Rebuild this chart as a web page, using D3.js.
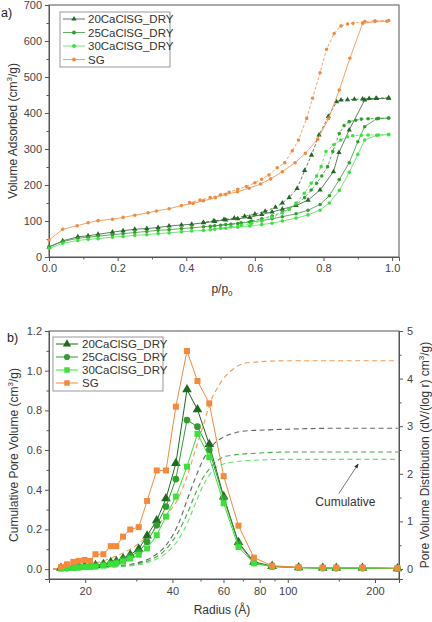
<!DOCTYPE html>
<head>
    <script src="https://d3js.org/d3.v7.min.js"></script>
    <style>
        body {margin: 0; background: #fff;}
        svg {font-family: "Liberation Sans", Arial, sans-serif;}
        .tick text {fill: #444; font-size: 11px;}
        .domain, .tick line {stroke: #555;}
        .title {fill: #333; font-size: 12px;}
    </style>
</head>
<body>
</body>
<script>
  const seriesNames = ["20CaClSG_DRY", "25CaClSG_DRY", "30CaClSG_DRY", "SG"],
        colors = ["#1e6a1e", "#2f9e2f", "#3be03b", "#f5893c"],
        lineColors = ["#3b5a3b", "#3a9a3a", "#55dd55", "#f5893c"],
        cumColors = ["#5f665f", "#45a645", "#66e066", "#f59a55"],
        shapes = [d3.symbolTriangle, d3.symbolCircle, d3.symbolSquare, d3.symbolSquare];

  // a) isotherms, p/p0 and volume adsorbed (cm3/g)
  const adsP = [
    [0.0, 0.04, 0.084, 0.114, 0.143, 0.185, 0.216, 0.25, 0.285, 0.318, 0.35, 0.386, 0.416, 0.45, 0.483, 0.515, 0.55, 0.585, 0.62, 0.65, 0.68, 0.72, 0.755, 0.79, 0.829, 0.845, 0.875, 0.92, 0.955, 0.99],
    [0.0, 0.04, 0.084, 0.114, 0.143, 0.185, 0.216, 0.25, 0.285, 0.318, 0.35, 0.386, 0.416, 0.45, 0.483, 0.515, 0.55, 0.585, 0.62, 0.65, 0.68, 0.72, 0.755, 0.79, 0.817, 0.846, 0.875, 0.90, 0.92, 0.955, 0.99],
    [0.0, 0.04, 0.084, 0.114, 0.143, 0.185, 0.216, 0.25, 0.285, 0.318, 0.35, 0.386, 0.416, 0.45, 0.483, 0.515, 0.55, 0.585, 0.62, 0.65, 0.68, 0.72, 0.755, 0.79, 0.817, 0.846, 0.875, 0.90, 0.92, 0.955, 0.99],
    [0.0, 0.04, 0.082, 0.114, 0.143, 0.185, 0.216, 0.25, 0.289, 0.313, 0.35, 0.386, 0.42, 0.45, 0.485, 0.515, 0.549, 0.583, 0.617, 0.646, 0.68, 0.717, 0.747, 0.783, 0.815, 0.846, 0.877, 0.914, 0.95, 0.985]
  ];
  const adsV = [
    [27, 45, 56, 59, 63, 69, 73, 77, 79, 82, 86, 89, 91, 95, 99, 103, 106, 110, 118, 125, 133, 143, 158, 186, 237, 290, 353, 436, 440, 441],
    [29, 43, 52, 55, 58, 62, 65, 68, 71, 74, 76, 79, 81, 84, 87, 90, 93, 97, 101, 106, 112, 120, 130, 146, 170, 215, 262, 320, 362, 384, 386],
    [24, 38, 46, 49, 51, 55, 57, 60, 62, 65, 67, 70, 72, 74, 77, 80, 83, 86, 90, 94, 100, 108, 117, 130, 150, 185, 235, 285, 325, 338, 340],
    [47, 77, 87, 95, 101, 105, 110, 116, 123, 128, 134, 143, 149, 156, 165, 174, 181, 191, 203, 217, 237, 262, 288, 327, 385, 464, 552, 649, 654, 655]
  ];
  const desP = [
    [0.99, 0.953, 0.933, 0.914, 0.89, 0.87, 0.851, 0.838, 0.814, 0.787, 0.765, 0.745, 0.723, 0.70, 0.68, 0.66, 0.63, 0.60, 0.57, 0.54, 0.51, 0.48, 0.45],
    [0.99, 0.96, 0.93, 0.91, 0.894, 0.875, 0.86, 0.846, 0.827, 0.812, 0.795, 0.78, 0.764, 0.745, 0.72, 0.70, 0.68, 0.65, 0.62, 0.59, 0.56, 0.53, 0.50, 0.47],
    [0.99, 0.96, 0.93, 0.91, 0.885, 0.87, 0.85, 0.83, 0.807, 0.793, 0.78, 0.764, 0.744, 0.72, 0.70, 0.68, 0.65, 0.62, 0.59, 0.56, 0.53, 0.50, 0.47],
    [0.99, 0.95, 0.92, 0.886, 0.87, 0.851, 0.831, 0.809, 0.79, 0.768, 0.751, 0.727, 0.709, 0.687, 0.665, 0.641, 0.62, 0.60, 0.575, 0.55, 0.525, 0.50, 0.47, 0.44, 0.41]
  ];
  const desV = [
    [442, 441, 440, 439, 438, 437, 436, 431, 390, 339, 283, 240, 190, 165, 150, 138, 127, 119, 113, 108, 104, 100, 96],
    [386, 385, 384, 383, 380, 376, 365, 343, 293, 251, 225, 205, 186, 165, 145, 133, 124, 114, 106, 100, 95, 91, 88, 85],
    [340, 339, 339, 338, 337, 334, 325, 312, 293, 251, 225, 205, 177, 150, 133, 122, 110, 100, 93, 88, 84, 80, 76],
    [657, 656, 654, 649, 647, 642, 621, 577, 512, 441, 385, 325, 295, 262, 248, 228, 216, 206, 196, 188, 180, 173, 165, 158, 151]
  ];

  // b) pore size distribution, radius (A)
  const radius = [16.5, 17.3, 18.2, 19.0, 19.9, 20.8, 21.7, 23.1, 24.5, 25.6, 27.0, 28.6, 30.6, 32.7, 35.3, 38.0, 41.1, 44.9, 48.8, 53.6, 60.1, 67.6, 76.4, 88.3, 109, 132, 147, 181, 239];
  const poreDist = [
    [0.02, 0.03, 0.04, 0.05, 0.06, 0.06, 0.08, 0.10, 0.14, 0.16, 0.22, 0.30, 0.42, 0.70, 1.02, 1.48, 2.22, 3.77, 3.35, 2.62, 1.52, 0.56, 0.15, 0.06, 0.03, 0.02, 0.02, 0.02, 0.01],
    [0.02, 0.02, 0.03, 0.04, 0.05, 0.05, 0.07, 0.09, 0.12, 0.14, 0.20, 0.27, 0.36, 0.57, 0.92, 1.31, 1.89, 3.13, 2.99, 2.50, 1.49, 0.53, 0.13, 0.05, 0.03, 0.02, 0.02, 0.02, 0.01],
    [0.01, 0.02, 0.02, 0.03, 0.04, 0.04, 0.05, 0.07, 0.10, 0.12, 0.16, 0.22, 0.30, 0.43, 0.71, 1.10, 1.52, 2.15, 2.84, 2.35, 1.38, 0.46, 0.12, 0.05, 0.03, 0.02, 0.02, 0.02, 0.01],
    [0.04, 0.10, 0.15, 0.17, 0.19, 0.17, 0.31, 0.31, 0.48, 0.48, 0.68, 0.83, 0.88, 1.43, 2.07, 2.07, 3.41, 4.58, 3.95, 3.48, 1.95, 0.91, 0.24, 0.07, 0.035, 0.03, 0.03, 0.03, 0.02]
  ];
  const cumRadius = [15.5, 20, 25, 30, 34, 38, 42, 45, 48, 51, 54, 57, 60, 65, 70, 80, 100, 150, 240];
  const cumVolume = [
    [0.0, 0.005, 0.015, 0.03, 0.06, 0.12, 0.23, 0.35, 0.46, 0.55, 0.61, 0.645, 0.665, 0.685, 0.695, 0.70, 0.705, 0.71, 0.71],
    [0.0, 0.005, 0.012, 0.025, 0.05, 0.10, 0.19, 0.28, 0.38, 0.46, 0.51, 0.545, 0.565, 0.575, 0.58, 0.585, 0.59, 0.59, 0.59],
    [0.0, 0.004, 0.01, 0.02, 0.04, 0.08, 0.15, 0.23, 0.33, 0.42, 0.48, 0.515, 0.53, 0.54, 0.545, 0.55, 0.553, 0.553, 0.553],
    [0.0, 0.02, 0.06, 0.12, 0.19, 0.27, 0.36, 0.47, 0.60, 0.72, 0.84, 0.91, 0.96, 1.01, 1.035, 1.045, 1.05, 1.05, 1.05]
  ];
  const radiusTicks = [20, 40, 60, 80, 100, 200],
        radiusMinor = [30, 50, 70, 90, 150];

  const width = 432, height = 622;
  const svg = d3.select("body").append("svg")
          .attr("width", width)
          .attr("height", height);

  const frame = (g, x0, x1, y0, y1) => {
    g.append("rect").attr("x", x0).attr("y", y0)
      .attr("width", x1 - x0).attr("height", y1 - y0)
      .attr("fill", "none").attr("stroke", "#555");
  };

  const minorTicks = (g, axis, values, tx) => {
    g.append("g").attr("transform", tx).call(axis.tickValues(values).tickSize(2.5).tickFormat(""))
      .call(s => s.select(".domain").remove());
  };

  // ---------- panel a ----------
  const ax = d3.scaleLinear().domain([0, 1.02]).range([49, 399]),
        ay = d3.scaleLinear().domain([0, 700]).range([257, 5]);
  const pa = svg.append("g");

  minorTicks(pa, d3.axisBottom(ax), d3.range(0.1, 1.01, 0.2), "translate(0,257)");
  minorTicks(pa, d3.axisLeft(ay), d3.range(50, 700, 100), "translate(49,0)");
  pa.append("g").attr("transform", "translate(0,257)")
    .call(d3.axisBottom(ax).tickValues(d3.range(0, 1.01, 0.2)).tickSize(4).tickPadding(3).tickFormat(d3.format(".1f")));
  pa.append("g").attr("transform", "translate(49,0)")
    .call(d3.axisLeft(ay).tickValues(d3.range(0, 701, 100)).tickSize(4).tickPadding(3));
  frame(pa, 49, 399, 5, 257);

  const isoLine = d3.line().x(d => ax(d[0])).y(d => ay(d[1]));
  seriesNames.forEach((name, i) => {
    const ads = adsP[i].map((p, j) => [p, adsV[i][j]]),
          des = desP[i].map((p, j) => [p, desV[i][j]]);
    pa.append("path").attr("d", isoLine(ads)).attr("fill", "none")
      .attr("stroke", lineColors[i]).attr("stroke-width", 0.8);
    pa.append("path").attr("d", isoLine(des)).attr("fill", "none")
      .attr("stroke", lineColors[i]).attr("stroke-width", 0.8).attr("stroke-dasharray", "3,2");
    const sym = d3.symbol().type(i === 0 ? d3.symbolTriangle : d3.symbolCircle).size(i === 0 ? 12 : 10);
    pa.append("g").selectAll("path").data(ads.concat(des)).enter().append("path")
      .attr("d", sym).attr("transform", d => `translate(${ax(d[0])},${ay(d[1])})`)
      .attr("fill", colors[i]);
  });

  const legA = pa.append("g").attr("transform", "translate(60,12)");
  legA.append("rect").attr("width", 110).attr("height", 55).attr("fill", "#fff").attr("stroke", "#999");
  seriesNames.forEach((name, i) => {
    const y = 7 + i * 13.5;
    legA.append("line").attr("x1", 3).attr("x2", 25).attr("y1", y).attr("y2", y)
      .attr("stroke", lineColors[i]).attr("stroke-width", 0.8);
    legA.append("path").attr("d", d3.symbol().type(i === 0 ? d3.symbolTriangle : d3.symbolCircle).size(12))
      .attr("transform", `translate(14,${y})`).attr("fill", colors[i]);
    legA.append("text").attr("x", 28).attr("y", y + 4).attr("font-size", 11.5).attr("fill", "#333").text(name);
  });

  pa.append("text").attr("class", "title").attr("transform", "translate(17,131) rotate(-90)")
    .attr("text-anchor", "middle").attr("font-size", 12.5)
    .html("Volume Adsorbed (cm<tspan dy='-5' font-size='8'>3</tspan><tspan dy='5'>/g)</tspan>");
  pa.append("text").attr("class", "title").attr("x", 222).attr("y", 293).attr("text-anchor", "middle").attr("font-size", 12.5)
    .html("p/p<tspan dy='3' font-size='8'>0</tspan>");
  pa.append("text").attr("x", 1).attr("y", 17).attr("font-size", 12.5).attr("fill", "#222").text("a)");

  // ---------- panel b ----------
  const bx = d3.scaleLog().domain([15, 242]).range([49, 399]),
        byL = d3.scaleLinear().domain([-0.05, 1.2]).range([579, 331]),
        byR = d3.scaleLinear().domain([-0.21, 5]).range([579, 331]);
  const pb = svg.append("g");

  minorTicks(pb, d3.axisBottom(bx), radiusMinor, "translate(0,579)");
  minorTicks(pb, d3.axisLeft(byL), d3.range(0.1, 1.2, 0.2), "translate(49,0)");
  minorTicks(pb, d3.axisRight(byR), d3.range(0.5, 5, 1), "translate(399,0)");
  pb.append("g").attr("transform", "translate(0,579)")
    .call(d3.axisBottom(bx).tickValues(radiusTicks).tickSize(4).tickPadding(4).tickFormat(d3.format("d")));
  pb.append("g").attr("transform", "translate(49,0)")
    .call(d3.axisLeft(byL).tickValues(d3.range(0, 1.21, 0.2)).tickSize(4).tickPadding(3).tickFormat(d3.format(".1f")));
  pb.append("g").attr("transform", "translate(399,0)")
    .call(d3.axisRight(byR).tickValues(d3.range(0, 6, 1)).tickSize(4).tickPadding(4).tickFormat(d3.format("d")));
  frame(pb, 49, 399, 331, 579);

  const cumLine = d3.line().curve(d3.curveMonotoneX).x(d => bx(d[0])).y(d => byL(d[1]));
  seriesNames.forEach((name, i) => {
    pb.append("path").attr("d", cumLine(cumRadius.map((r, j) => [r, cumVolume[i][j]])))
      .attr("fill", "none").attr("stroke", cumColors[i]).attr("stroke-width", 1.1)
      .attr("stroke-dasharray", "5,3.5");
  });

  const distLine = d3.line().x(d => bx(d[0])).y(d => byR(d[1]));
  seriesNames.forEach((name, i) => {
    const pts = radius.map((r, j) => [r, poreDist[i][j]]);
    pb.append("path").attr("d", distLine(pts)).attr("fill", "none")
      .attr("stroke", colors[i]).attr("stroke-width", 1);
    pb.append("g").selectAll("path").data(pts).enter().append("path")
      .attr("d", d3.symbol().type(shapes[i]).size(i === 0 ? 40 : 36))
      .attr("transform", d => `translate(${bx(d[0])},${byR(d[1])})`)
      .attr("fill", colors[i]);
  });

  const legB = pb.append("g").attr("transform", "translate(53,337)");
  legB.append("rect").attr("width", 110).attr("height", 54).attr("fill", "#fff").attr("stroke", "#999");
  seriesNames.forEach((name, i) => {
    const y = 7 + i * 13;
    legB.append("line").attr("x1", 3).attr("x2", 25).attr("y1", y).attr("y2", y)
      .attr("stroke", colors[i]).attr("stroke-width", 1);
    legB.append("path").attr("d", d3.symbol().type(shapes[i]).size(30))
      .attr("transform", `translate(14,${y})`).attr("fill", colors[i]);
    legB.append("text").attr("x", 29).attr("y", y + 4).attr("font-size", 11.5).attr("fill", "#333").text(name);
  });

  // annotation
  svg.append("defs").append("marker").attr("id", "arr").attr("viewBox", "0 0 10 10")
    .attr("refX", 9).attr("refY", 5).attr("markerWidth", 6).attr("markerHeight", 6).attr("orient", "auto")
    .append("path").attr("d", "M0,1L10,5L0,9z").attr("fill", "#333");
  pb.append("line").attr("x1", bx(150)).attr("y1", byL(0.38)).attr("x2", bx(175)).attr("y2", byL(0.53))
    .attr("stroke", "#555").attr("stroke-width", 0.8).attr("marker-end", "url(#arr)");
  pb.append("text").attr("x", bx(158)).attr("y", byL(0.32)).attr("text-anchor", "middle")
    .attr("font-size", 12).attr("fill", "#333").text("Cumulative");

  pb.append("text").attr("class", "title").attr("transform", "translate(18,455) rotate(-90)")
    .attr("text-anchor", "middle").attr("font-size", 12.5)
    .html("Cumulative Pore Volume (cm<tspan dy='-5' font-size='8'>3</tspan><tspan dy='5'>/g)</tspan>");
  pb.append("text").attr("class", "title").attr("transform", "translate(429,455) rotate(-90)")
    .attr("text-anchor", "middle").attr("font-size", 12.5)
    .html("Pore Volume Distribution (dV/(log r) cm<tspan dy='-5' font-size='8'>3</tspan><tspan dy='5'>/g)</tspan>");
  pb.append("text").attr("class", "title").attr("x", 222).attr("y", 614).attr("text-anchor", "middle")
    .attr("font-size", 12.5).text("Radius (Å)");
  pb.append("text").attr("x", 7).attr("y", 342).attr("font-size", 12.5).attr("fill", "#222").text("b)");
</script>
